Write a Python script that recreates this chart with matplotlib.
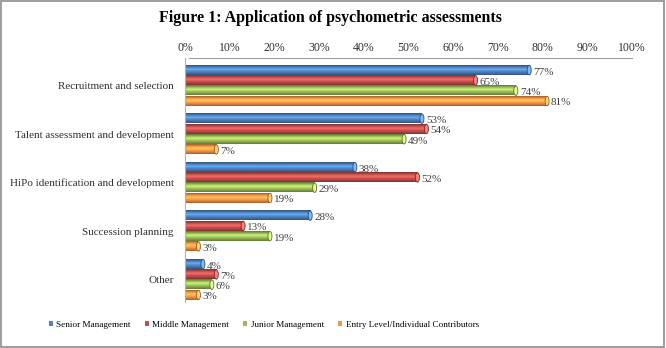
import numpy as np
import matplotlib
matplotlib.use("Agg")
import matplotlib.pyplot as plt
from matplotlib.colors import to_rgb
from matplotlib.patches import Ellipse, Rectangle, Patch

categories = ["Recruitment and selection", "Talent assessment and development",
              "HiPo identification and development", "Succession planning", "Other"]
series = ["Senior Management", "Middle Management", "Junior Management",
          "Entry Level/Individual Contributors"]
senior = [77, 53, 38, 28, 4]
middle = [65, 54, 52, 13, 7]
junior = [74, 49, 29, 19, 6]
entry = [81, 7, 19, 3, 3]
colors = ["#4F81BD", "#C0504D", "#9BBB59", "#F79646"]

plt.rcParams["font.family"] = ["Liberation Serif", "DejaVu Serif"]

fig = plt.figure(figsize=(6.66, 3.48), dpi=100)
fig.patches.append(Rectangle((0.002, 0.003), 0.995, 0.993, transform=fig.transFigure,
                             fill=False, edgecolor="#8c8c8c", lw=1.2))
ax = fig.add_axes([0.2778, 0.132, 0.6712, 0.701])

step, h = 0.212, 0.195
shade = np.array([0.70, 0.92, 1.15, 1.30, 1.12, 0.98, 0.85, 0.70])


def cylinder(x, y, color):
    base = np.array(to_rgb(color))
    col = np.clip(base[None, :] * shade[:, None], 0, 1)
    img = col[:, None, :]
    ax.imshow(img, extent=(0, x, y + h / 2, y - h / 2), aspect="auto",
              interpolation="bilinear", zorder=2)
    cap = np.clip(base * 1.25 + 0.1, 0, 1)
    ax.add_patch(Ellipse((x, y), 0.9, h, facecolor=cap,
                         edgecolor=np.clip(base * 0.6, 0, 1), lw=0.6, zorder=3))


for k, vals in enumerate([senior, middle, junior, entry]):
    for i, v in enumerate(vals):
        y = i + (k - 1.5) * step
        cylinder(v, y, colors[k])
        ax.text(v + 0.9, y + 0.04, f"{v}%", va="center", ha="left",
                fontsize=8, color="#404040", zorder=4)

ax.set_xlim(0, 100)
ax.set_ylim(4.464, -0.567)
ax.set_xticks(np.arange(0, 101, 10))
ax.set_xticklabels([f"{t}%" for t in range(0, 101, 10)])
ax.xaxis.tick_top()
ax.tick_params(axis="x", length=0, labelsize=8.5, pad=3, colors="#303030")
ax.set_yticks(range(len(categories)))
ax.set_yticklabels(categories)
ax.tick_params(axis="y", length=0, labelsize=8, pad=8, colors="#303030")
for side in ["right", "bottom"]:
    ax.spines[side].set_visible(False)
ax.spines["top"].set_color("#a0a0a0")
ax.spines["left"].set_color("#b0b0b0")
ax.spines["top"].set_bounds(1, 100)

fig.text(0.496, 0.948, "Figure 1: Application of psychometric assessments",
         ha="center", va="center", fontsize=11.5, fontweight="bold")

handles = [Patch(facecolor=c, label=s) for c, s in zip(colors, series)]
fig.legend(handles=handles, loc="center", bbox_to_anchor=(0.396, 0.066), ncol=4,
           frameon=False, fontsize=6.6, handlelength=0.45, handleheight=0.45,
           columnspacing=1.5, handletextpad=0.4)

fig.savefig("out.png", dpi=100)
